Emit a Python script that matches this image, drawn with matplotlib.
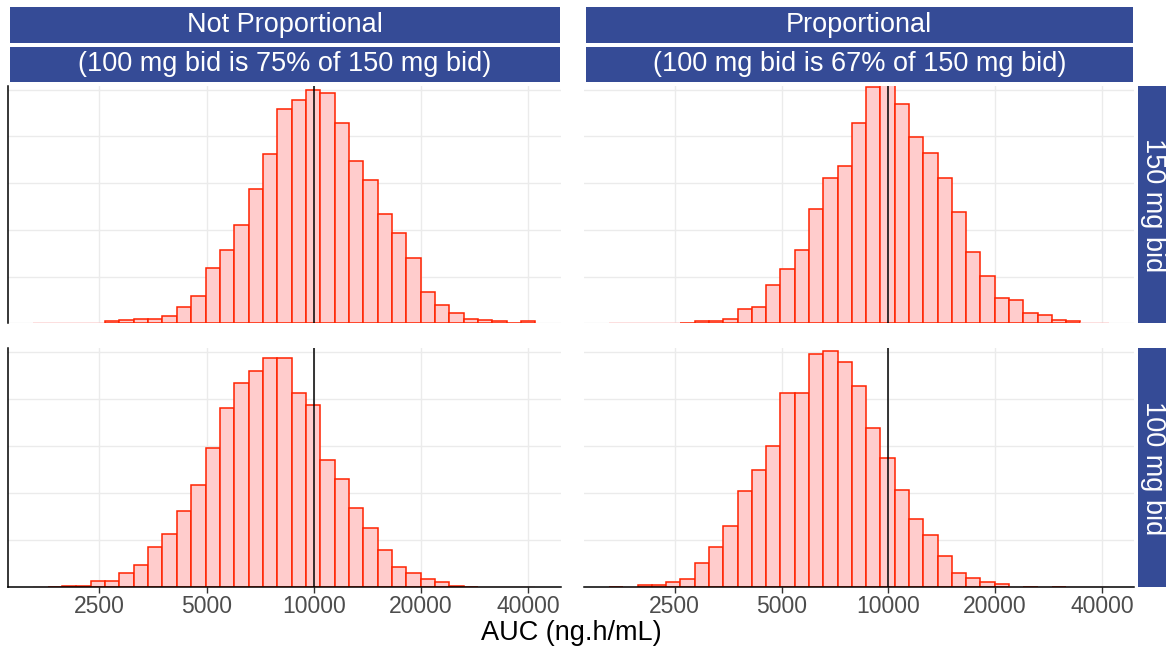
import numpy as np
import matplotlib
matplotlib.use('Agg')
import matplotlib.pyplot as plt
from matplotlib.patches import Rectangle

plt.rcParams['font.family'] = ['Liberation Sans', 'DejaVu Sans']

# ---------------- data ----------------
col_titles = ["Not Proportional", "Proportional"]
col_subtitles = ["(100 mg bid is 75% of 150 mg bid)", "(100 mg bid is 67% of 150 mg bid)"]
row_titles = ["150 mg bid", "100 mg bid"]

# histogram bins (log10 scale): first lower edge and bin width
bin_start_log10 = 3.21251
bin_width_log10 = 0.040278
n_bins = 35

counts_notprop_150 = [0, 0, 0, 0, 0, 4, 6, 9, 10, 16, 35, 58, 118, 157, 211, 287, 362, 459,
                      477, 499, 493, 428, 348, 307, 235, 193, 139, 66, 40, 22, 10, 7, 4, 1, 5]
counts_notprop_100 = [0, 1, 2, 3, 12, 13, 30, 47, 86, 112, 161, 218, 296, 382, 435, 459, 487,
                      487, 413, 387, 270, 230, 169, 126, 79, 43, 30, 16, 10, 3, 1, 0, 0, 0, 0]
counts_prop_150 = [0, 0, 0, 0, 0, 1, 4, 4, 9, 31, 35, 82, 117, 157, 244, 310, 336, 428, 505,
                   540, 470, 399, 365, 311, 238, 153, 101, 55, 49, 23, 18, 7, 4, 0, 0]
counts_prop_100 = [1, 0, 5, 4, 11, 17, 52, 86, 130, 204, 250, 301, 413, 413, 496, 503, 479,
                   427, 339, 274, 206, 144, 110, 66, 30, 20, 11, 6, 0, 1, 0, 1, 0, 0, 0]

ref_line = 10000
x_ticks = [2500, 5000, 10000, 20000, 40000]
y_grid = [0, 100, 200, 300, 400, 500]
y_max = 508

panels = {(0, 0): counts_notprop_150, (0, 1): counts_prop_150,
          (1, 0): counts_notprop_100, (1, 1): counts_prop_100}

# ---------------- figure ----------------
W, H = 1166, 651
fig = plt.figure(figsize=(W / 100, H / 100), dpi=100)

strip_col = '#354B96'
edge_col = '#FF2200'
edges = 10 ** (bin_start_log10 + bin_width_log10 * np.arange(n_bins + 1))
lo, hi = np.log10(edges[0]), np.log10(edges[-1])
pad = 0.05 * (hi - lo)
xlim = (10 ** (lo - pad), 10 ** (hi + pad))

col_x = [(8.3, 560.5), (584.0, 1134.0)]
row_y = [(86.0, 323.3), (348.3, 587.0)]


def fx(px):
    return px / W


def fy(py):
    return 1 - py / H


for (r, c), counts in panels.items():
    x0, x1 = col_x[c]
    y0, y1 = row_y[r]
    ax = fig.add_axes([fx(x0), fy(y1), fx(x1 - x0), (y1 - y0) / H])
    ax.set_xscale('log')
    ax.set_xlim(*xlim)
    ax.set_ylim(0, y_max)
    for gx in x_ticks:
        ax.axvline(gx, color='#EBEBEB', lw=1.0, zorder=0)
    for gy in y_grid:
        ax.axhline(gy, color='#EBEBEB', lw=1.0, zorder=0)
    counts = np.asarray(counts)
    ecols = [edge_col if v > 0 else (1.0, 0.75, 0.75, 0.6) for v in counts]
    ax.bar(edges[:-1], counts, width=np.diff(edges), align='edge',
           facecolor='#FFCCCC', edgecolor=ecols, lw=1.1, zorder=2)
    ax.axvline(ref_line, color='black', lw=1.1, zorder=3)
    for s in ax.spines.values():
        s.set_visible(False)
    ax.set_yticks([])
    ax.minorticks_off()
    if c == 0:
        ax.spines['left'].set_visible(True)
        ax.spines['left'].set_color('black')
        ax.spines['left'].set_linewidth(1.1)
    if r == 1:
        ax.spines['bottom'].set_visible(True)
        ax.spines['bottom'].set_color('black')
        ax.spines['bottom'].set_linewidth(1.1)
        ax.spines['bottom'].set_zorder(4)
        ax.set_xticks(x_ticks)
        ax.set_xticklabels([str(t) for t in x_ticks])
        ax.tick_params(axis='x', colors='#333333', labelcolor='#4D4D4D',
                       labelsize=16.5, length=4, width=1, pad=2)
    else:
        ax.set_xticks([])
    ax.tick_params(axis='x', which='minor', length=0)
    ax.patch.set_alpha(0)

# top strips
for c in range(2):
    x0, x1 = col_x[c]
    x0s = x0 + 1.5
    x1s = x1 - 1.0
    for (sy0, sy1), txt in zip([(6.7, 42.7), (46.7, 82.0)],
                               [col_titles[c], col_subtitles[c]]):
        fig.add_artist(Rectangle((fx(x0s), fy(sy1)), fx(x1s - x0s), (sy1 - sy0) / H,
                                 transform=fig.transFigure, facecolor=strip_col,
                                 edgecolor='none'))
        fig.text(fx((x0s + x1s) / 2), fy((sy0 + sy1) / 2), txt, color='white',
                 fontsize=19.5, ha='center', va='center')

# right strips
for r in range(2):
    y0, y1 = row_y[r]
    fig.add_artist(Rectangle((fx(1138), fy(y1)), fx(28), (y1 - y0) / H,
                             transform=fig.transFigure, facecolor=strip_col,
                             edgecolor='none'))
    fig.text(fx(1153), fy((y0 + y1) / 2), row_titles[r], color='white',
             fontsize=19.5, ha='center', va='center', rotation=-90)

fig.text(fx(571), fy(633), "AUC (ng.h/mL)", fontsize=19.5, ha='center', va='center',
         color='black')

fig.savefig('out.png', dpi=100)
